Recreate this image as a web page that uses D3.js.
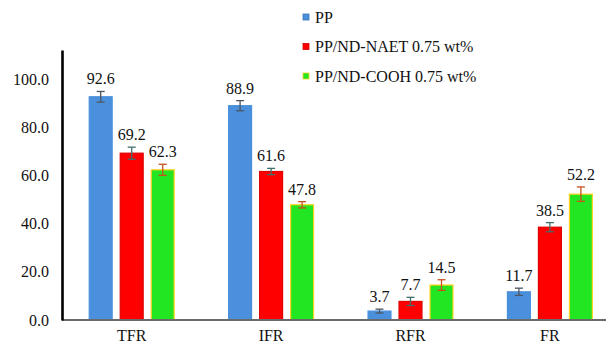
<!DOCTYPE html>
<html>
<head>
<meta charset="utf-8">
<script src="https://cdn.jsdelivr.net/npm/d3@7"></script>
<style>
  body { margin: 0; background: #fff; }
</style>
</head>
<body>
<div id="chart"></div>
<script>
// Data
var categories = ["TFR", "IFR", "RFR", "FR"];
var series = ["PP", "PP/ND-NAET 0.75 wt%", "PP/ND-COOH 0.75 wt%"];
var ppValues   = [92.6, 88.9, 3.7, 11.7];
var naetValues = [69.2, 61.6, 7.7, 38.5];
var coohValues = [62.3, 47.8, 14.5, 52.2];
var ppErr   = [2.2, 2.1, 0.8, 1.5];
var naetErr = [2.5, 1.3, 1.7, 1.9];
var coohErr = [2.3, 1.3, 2.2, 3.0];
var yTicks = [0, 20, 40, 60, 80, 100];

var fills   = ["#4a90dc", "#ff0000", "#22e622"];
var strokes = ["#4a90dc", "#e00000", "#ffd21e"];
var errCols = ["#4d5560", "#3f6f6c", "#c8501c"];

var values = [ppValues, naetValues, coohValues];
var errors = [ppErr, naetErr, coohErr];

var width = 606, height = 345;
var serif = "'Liberation Serif', 'Times New Roman', Times, serif";

var svg = d3.select("#chart").append("svg")
    .attr("width", width)
    .attr("height", height)
    .style("font-family", serif);

// Scales
var x = d3.scaleBand()
    .domain(categories)
    .range([62, 62 + 4 * 139.4])
    .padding(0);

var xSub = d3.scaleBand()
    .domain(series)
    .range([x.bandwidth() / 2 - 46.5, x.bandwidth() / 2 + 46.5])
    .paddingInner(0.26)
    .paddingOuter(0.13);

var y = d3.scaleLinear()
    .domain([0, 112])
    .range([320, 50]);

// Flatten for drawing
var rows = [];
categories.forEach(function(c, i) {
    series.forEach(function(s, j) {
        rows.push({cat: c, ser: s, k: j, v: values[j][i], e: errors[j][i]});
    });
});

var g = svg.append("g");

// Bars
g.selectAll("rect.bar")
    .data(rows)
    .enter()
    .append("rect")
    .attr("class", "bar")
    .attr("x", function(d) { return x(d.cat) + xSub(d.ser); })
    .attr("width", xSub.bandwidth())
    .attr("y", function(d) { return y(d.v); })
    .attr("height", function(d) { return y(0) - y(d.v); })
    .attr("fill", function(d) { return fills[d.k]; })
    .attr("stroke", function(d) { return strokes[d.k]; })
    .attr("stroke-width", 1.2);

// Error bars
var eb = g.selectAll("g.err")
    .data(rows)
    .enter()
    .append("g")
    .attr("class", "err")
    .attr("stroke", function(d) { return errCols[d.k]; })
    .attr("stroke-width", 1.3);

eb.append("line")
    .attr("x1", function(d) { return x(d.cat) + xSub(d.ser) + xSub.bandwidth() / 2; })
    .attr("x2", function(d) { return x(d.cat) + xSub(d.ser) + xSub.bandwidth() / 2; })
    .attr("y1", function(d) { return y(d.v + d.e); })
    .attr("y2", function(d) { return y(d.v - d.e); });

[1, -1].forEach(function(sgn) {
    eb.append("line")
        .attr("x1", function(d) { return x(d.cat) + xSub(d.ser) + xSub.bandwidth() / 2 - 4; })
        .attr("x2", function(d) { return x(d.cat) + xSub(d.ser) + xSub.bandwidth() / 2 + 4; })
        .attr("y1", function(d) { return y(d.v + sgn * d.e); })
        .attr("y2", function(d) { return y(d.v + sgn * d.e); });
});

// Value labels
g.selectAll("text.val")
    .data(rows)
    .enter()
    .append("text")
    .attr("class", "val")
    .attr("x", function(d) { return x(d.cat) + xSub(d.ser) + xSub.bandwidth() / 2; })
    .attr("y", function(d) { return y(d.v + d.e) - 7; })
    .attr("text-anchor", "middle")
    .style("font-family", serif)
    .style("font-size", "16px")
    .attr("fill", "#111")
    .text(function(d) { return d.v.toFixed(1); });

// Axes
var xAxis = svg.append("g")
    .attr("transform", "translate(0," + y(0) + ")")
    .call(d3.axisBottom(x).tickSize(0).tickPadding(10));
xAxis.select(".domain").remove();
xAxis.append("line")
    .attr("x1", 62).attr("x2", 606)
    .attr("stroke", "#6a6a6a").attr("stroke-width", 2);
xAxis.selectAll("text")
    .style("font-family", serif)
    .style("font-size", "16px")
    .attr("fill", "#111");

var yAxis = svg.append("g")
    .attr("transform", "translate(62,0)")
    .call(d3.axisLeft(y).tickValues(yTicks).tickFormat(d3.format(".1f")).tickSize(0).tickPadding(13));
yAxis.select(".domain").attr("stroke", "#000").attr("stroke-width", 2.6);
yAxis.selectAll("text")
    .style("font-family", serif)
    .style("font-size", "16px")
    .attr("fill", "#111");

// Legend
var legend = svg.append("g")
    .attr("transform", "translate(303,17)");

var item = legend.selectAll("g")
    .data(series)
    .enter()
    .append("g")
    .attr("transform", function(d, i) { return "translate(0," + (i * 29.5) + ")"; });

item.append("rect")
    .attr("x", 0).attr("y", -3)
    .attr("width", 6).attr("height", 6)
    .attr("fill", function(d, i) { return fills[i]; })
    .attr("stroke", function(d, i) { return i === 2 ? "#ffd21e" : d3.color(fills[i]).darker(0.6); })
    .attr("stroke-width", 0.8);

item.append("text")
    .attr("x", 12)
    .attr("y", 5.5)
    .style("font-family", serif)
    .style("font-size", "16px")
    .attr("fill", "#111")
    .text(function(d) { return d; });
</script>
</body>
</html>
